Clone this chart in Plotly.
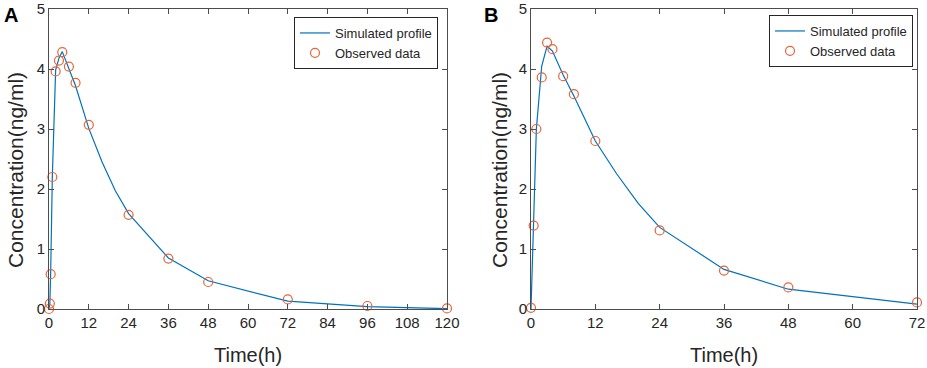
import plotly.graph_objects as go

# Panel A data
obs_t_A = [0, 0.25, 0.5, 1, 2, 3, 4, 6, 8, 12, 24, 36, 48, 72, 96, 120]
obs_c_A = [0.0, 0.09, 0.58, 2.2, 3.96, 4.14, 4.28, 4.04, 3.77, 3.07, 1.57, 0.84, 0.45, 0.16, 0.05, 0.01]
sim_t_A = [0, 0.25, 0.5, 1, 2, 3, 4, 6, 8, 12, 16, 20, 24, 36, 48, 72, 96, 120]
sim_c_A = [0.0, 0.08, 0.6, 2.2, 3.98, 4.18, 4.29, 4.0, 3.72, 3.01, 2.45, 1.97, 1.59, 0.85, 0.47, 0.13, 0.04, 0.005]

# Panel B data
obs_t_B = [0, 0.5, 1, 2, 3, 4, 6, 8, 12, 24, 36, 48, 72]
obs_c_B = [0.02, 1.39, 3.0, 3.86, 4.44, 4.33, 3.88, 3.58, 2.8, 1.31, 0.64, 0.36, 0.11]
sim_t_B = [0, 0.5, 1, 2, 3, 4, 6, 8, 12, 16, 20, 24, 36, 48, 72]
sim_c_B = [0.0, 1.5, 3.0, 4.05, 4.38, 4.3, 3.9, 3.55, 2.8, 2.25, 1.76, 1.36, 0.66, 0.33, 0.08]

x_ticks_A = list(range(0, 121, 12))
x_ticks_B = list(range(0, 73, 12))
y_ticks = [0, 1, 2, 3, 4, 5]

BLUE = "#0072BD"
ORANGE = "#E8643A"
AX = "#4d4d4d"
TXT = "#262626"
FONT = "Arial, Liberation Sans, sans-serif"

fig = go.Figure()
fig.add_trace(go.Scatter(x=sim_t_A, y=sim_c_A, mode="lines", name="Simulated profile",
                         line=dict(color=BLUE, width=1.2), xaxis="x", yaxis="y", legend="legend"))
fig.add_trace(go.Scatter(x=obs_t_A, y=obs_c_A, mode="markers", name="Observed data",
                         marker=dict(symbol="circle-open", color=ORANGE, size=9, line=dict(width=1.2)),
                         cliponaxis=False, xaxis="x", yaxis="y", legend="legend"))
fig.add_trace(go.Scatter(x=sim_t_B, y=sim_c_B, mode="lines", name="Simulated profile",
                         line=dict(color=BLUE, width=1.2), xaxis="x2", yaxis="y2", legend="legend2"))
fig.add_trace(go.Scatter(x=obs_t_B, y=obs_c_B, mode="markers", name="Observed data",
                         marker=dict(symbol="circle-open", color=ORANGE, size=9, line=dict(width=1.2)),
                         cliponaxis=False, xaxis="x2", yaxis="y2", legend="legend2"))

W, H = 927, 368
def xd(a, b):
    return [a / W, b / W]
def py(p):
    return (H - p) / H
ydom = [py(309), py(9)]

common_x = dict(showline=True, linecolor=AX, linewidth=1, mirror="ticks", ticks="inside",
                ticklen=5, tickcolor=AX, showgrid=False, zeroline=False, automargin=False,
                tickfont=dict(family=FONT, size=15, color=TXT))
common_y = dict(showline=True, linecolor=AX, linewidth=1, mirror="ticks", ticks="inside",
                ticklen=5, tickcolor=AX, showgrid=False, zeroline=False, range=[0, 5], automargin=False,
                tickvals=y_ticks, tickfont=dict(family=FONT, size=15, color=TXT))

def ann(text, x, y, size, angle=0, xanchor="center", yanchor="middle", bold=False):
    return dict(text=f"<b>{text}</b>" if bold else text, x=x / W, y=py(y), xref="paper", yref="paper",
                xanchor=xanchor, yanchor=yanchor, showarrow=False, textangle=angle,
                font=dict(family=FONT, size=size, color="black" if bold else TXT))

fig.update_layout(
    width=W, height=H,
    margin=dict(l=0, r=0, t=0, b=0),
    paper_bgcolor="white", plot_bgcolor="white",
    xaxis=dict(common_x, domain=xd(49, 447), range=[0, 120], tickvals=x_ticks_A, anchor="y"),
    yaxis=dict(common_y, domain=ydom, anchor="x"),
    xaxis2=dict(common_x, domain=xd(531, 917), range=[0, 72], tickvals=x_ticks_B, anchor="y2"),
    yaxis2=dict(common_y, domain=ydom, anchor="x2"),
    legend=dict(x=438 / W, y=py(17), xanchor="right", yanchor="top",
                bordercolor=TXT, borderwidth=1, bgcolor="white",
                font=dict(family=FONT, size=13, color=TXT), tracegroupgap=0),
    legend2=dict(x=913 / W, y=py(15), xanchor="right", yanchor="top",
                 bordercolor=TXT, borderwidth=1, bgcolor="white",
                 font=dict(family=FONT, size=13, color=TXT), tracegroupgap=0),
    showlegend=True,
    annotations=[
        ann("A", 2, 2, 20, xanchor="left", yanchor="top", bold=True),
        ann("B", 482, 2, 20, xanchor="left", yanchor="top", bold=True),
        ann("Concentration(ng/ml)", 15, 170, 21, angle=-90),
        ann("Concentration(ng/ml)", 499, 170, 21, angle=-90),
        ann("Time(h)", 248, 355, 20),
        ann("Time(h)", 724, 355, 20),
    ],
)

fig.write_html("out.html", config={"displayModeBar": False},
               post_script="document.body.style.margin='0';")
